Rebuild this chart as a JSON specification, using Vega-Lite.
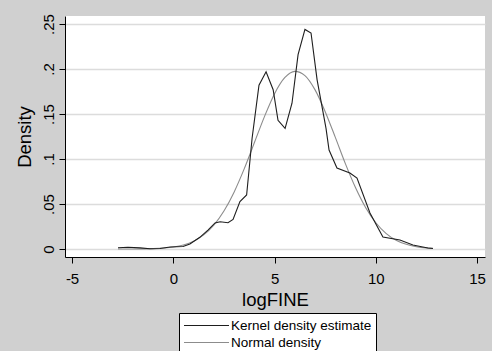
{
  "$schema": "https://vega.github.io/schema/vega-lite/v6.json",
  "width": 420,
  "height": 241,
  "autosize": {"type": "none"},
  "padding": {"left": 65, "top": 16, "right": 7, "bottom": 94},
  "background": "#d0d0d0",
  "config": {
    "font": "Liberation Sans",
    "view": {"fill": "white", "stroke": null},
    "legend": {
      "fillColor": "white",
      "strokeColor": "black",
      "strokeWidth": 1,
      "padding": 4,
      "cornerRadius": 0,
      "symbolType": "M-1,0H5",
      "symbolSize": 225,
      "symbolStrokeWidth": 1.1,
      "labelFont": "Liberation Sans",
      "labelFontSize": 13.5,
      "labelColor": "black",
      "labelOffset": 31,
      "rowPadding": 2
    }
  },
  "data": {
    "values": [
      {"x": -2.73, "density": 0.0014, "series": "Kernel density estimate"},
      {"x": -2.24, "density": 0.0019, "series": "Kernel density estimate"},
      {"x": -1.64, "density": 0.0013, "series": "Kernel density estimate"},
      {"x": -1.15, "density": 0.0002, "series": "Kernel density estimate"},
      {"x": -0.66, "density": 0.0006, "series": "Kernel density estimate"},
      {"x": -0.16, "density": 0.0022, "series": "Kernel density estimate"},
      {"x": 0.48, "density": 0.0028, "series": "Kernel density estimate"},
      {"x": 0.82, "density": 0.0056, "series": "Kernel density estimate"},
      {"x": 1.31, "density": 0.013, "series": "Kernel density estimate"},
      {"x": 1.71, "density": 0.021, "series": "Kernel density estimate"},
      {"x": 2.06, "density": 0.029, "series": "Kernel density estimate"},
      {"x": 2.31, "density": 0.0303, "series": "Kernel density estimate"},
      {"x": 2.7, "density": 0.0292, "series": "Kernel density estimate"},
      {"x": 2.95, "density": 0.0328, "series": "Kernel density estimate"},
      {"x": 3.29, "density": 0.0526, "series": "Kernel density estimate"},
      {"x": 3.62, "density": 0.06, "series": "Kernel density estimate"},
      {"x": 3.89, "density": 0.123, "series": "Kernel density estimate"},
      {"x": 4.23, "density": 0.182, "series": "Kernel density estimate"},
      {"x": 4.58, "density": 0.197, "series": "Kernel density estimate"},
      {"x": 4.93, "density": 0.177, "series": "Kernel density estimate"},
      {"x": 5.17, "density": 0.143, "series": "Kernel density estimate"},
      {"x": 5.52, "density": 0.134, "series": "Kernel density estimate"},
      {"x": 5.86, "density": 0.162, "series": "Kernel density estimate"},
      {"x": 6.16, "density": 0.216, "series": "Kernel density estimate"},
      {"x": 6.5, "density": 0.244, "series": "Kernel density estimate"},
      {"x": 6.8, "density": 0.24, "series": "Kernel density estimate"},
      {"x": 7.1, "density": 0.188, "series": "Kernel density estimate"},
      {"x": 7.54, "density": 0.134, "series": "Kernel density estimate"},
      {"x": 7.69, "density": 0.11, "series": "Kernel density estimate"},
      {"x": 8.08, "density": 0.09, "series": "Kernel density estimate"},
      {"x": 8.72, "density": 0.0844, "series": "Kernel density estimate"},
      {"x": 9.07, "density": 0.0789, "series": "Kernel density estimate"},
      {"x": 9.71, "density": 0.04, "series": "Kernel density estimate"},
      {"x": 10.35, "density": 0.0133, "series": "Kernel density estimate"},
      {"x": 11.19, "density": 0.01, "series": "Kernel density estimate"},
      {"x": 11.83, "density": 0.0044, "series": "Kernel density estimate"},
      {"x": 12.57, "density": 0.0011, "series": "Kernel density estimate"},
      {"x": 12.82, "density": 0.0006, "series": "Kernel density estimate"},
      {"x": -2.73, "density": 0.00002, "series": "Normal density"},
      {"x": -2.0, "density": 0.00007, "series": "Normal density"},
      {"x": -1.0, "density": 0.00045, "series": "Normal density"},
      {"x": 0.0, "density": 0.00223, "series": "Normal density"},
      {"x": 0.5, "density": 0.00453, "series": "Normal density"},
      {"x": 1.0, "density": 0.00867, "series": "Normal density"},
      {"x": 1.5, "density": 0.01564, "series": "Normal density"},
      {"x": 2.0, "density": 0.02646, "series": "Normal density"},
      {"x": 2.5, "density": 0.04217, "series": "Normal density"},
      {"x": 3.0, "density": 0.06316, "series": "Normal density"},
      {"x": 3.5, "density": 0.08903, "series": "Normal density"},
      {"x": 4.0, "density": 0.118, "series": "Normal density"},
      {"x": 4.5, "density": 0.1471, "series": "Normal density"},
      {"x": 5.0, "density": 0.1726, "series": "Normal density"},
      {"x": 5.5, "density": 0.1903, "series": "Normal density"},
      {"x": 6.0, "density": 0.1974, "series": "Normal density"},
      {"x": 6.5, "density": 0.1927, "series": "Normal density"},
      {"x": 7.0, "density": 0.1768, "series": "Normal density"},
      {"x": 7.5, "density": 0.1526, "series": "Normal density"},
      {"x": 8.0, "density": 0.124, "series": "Normal density"},
      {"x": 8.5, "density": 0.0946, "series": "Normal density"},
      {"x": 9.0, "density": 0.068, "series": "Normal density"},
      {"x": 9.5, "density": 0.0459, "series": "Normal density"},
      {"x": 10.0, "density": 0.0292, "series": "Normal density"},
      {"x": 10.5, "density": 0.01745, "series": "Normal density"},
      {"x": 11.0, "density": 0.00981, "series": "Normal density"},
      {"x": 11.5, "density": 0.00519, "series": "Normal density"},
      {"x": 12.0, "density": 0.00258, "series": "Normal density"},
      {"x": 12.5, "density": 0.00121, "series": "Normal density"},
      {"x": 12.82, "density": 0.00074, "series": "Normal density"}
    ]
  },
  "encoding": {
    "x": {
      "field": "x",
      "type": "quantitative",
      "scale": {"domain": [-5.348, 15.39], "nice": false, "zero": false},
      "axis": {
        "title": "logFINE",
        "values": [-5, 0, 5, 10, 15],
        "labelExpr": "'' + datum.value",
        "grid": false,
        "domainColor": "black",
        "domainWidth": 1,
        "tickColor": "black",
        "tickSize": 6,
        "tickWidth": 1,
        "labelFontSize": 15,
        "labelColor": "black",
        "labelPadding": 8,
        "titleFontSize": 18.5,
        "titleFontWeight": "normal",
        "titleColor": "black",
        "titlePadding": 4
      }
    },
    "y": {
      "field": "density",
      "type": "quantitative",
      "scale": {"domain": [-0.00889, 0.2589], "nice": false, "zero": false},
      "axis": {
        "title": "Density",
        "values": [0, 0.05, 0.1, 0.15, 0.2, 0.25],
        "labelExpr": "datum.value == 0 ? '0' : slice(format(datum.value, '.2~f'), 1)",
        "grid": true,
        "gridColor": "#dcdcdc",
        "gridWidth": 1.5,
        "domainColor": "black",
        "domainWidth": 1,
        "tickColor": "black",
        "tickSize": 6,
        "tickWidth": 1,
        "labelFontSize": 15,
        "labelColor": "black",
        "labelAngle": 270,
        "labelAlign": "center",
        "labelBaseline": "alphabetic",
        "labelPadding": 5.5,
        "titleFontSize": 18.5,
        "titleFontWeight": "normal",
        "titleColor": "black",
        "titlePadding": 7.5
      }
    },
    "color": {
      "field": "series",
      "type": "nominal",
      "scale": {
        "domain": ["Kernel density estimate", "Normal density"],
        "range": ["#1e1e1e", "#8c8c8c"]
      },
      "legend": {
        "title": null,
        "orient": "none",
        "legendX": 114,
        "legendY": 297,
        "direction": "vertical"
      }
    }
  },
  "layer": [
    {
      "transform": [{"filter": "datum.series == 'Normal density'"}],
      "mark": {"type": "line", "strokeWidth": 1.1, "interpolate": "monotone"}
    },
    {
      "transform": [{"filter": "datum.series == 'Kernel density estimate'"}],
      "mark": {"type": "line", "strokeWidth": 1.1, "interpolate": "linear"}
    }
  ]
}
